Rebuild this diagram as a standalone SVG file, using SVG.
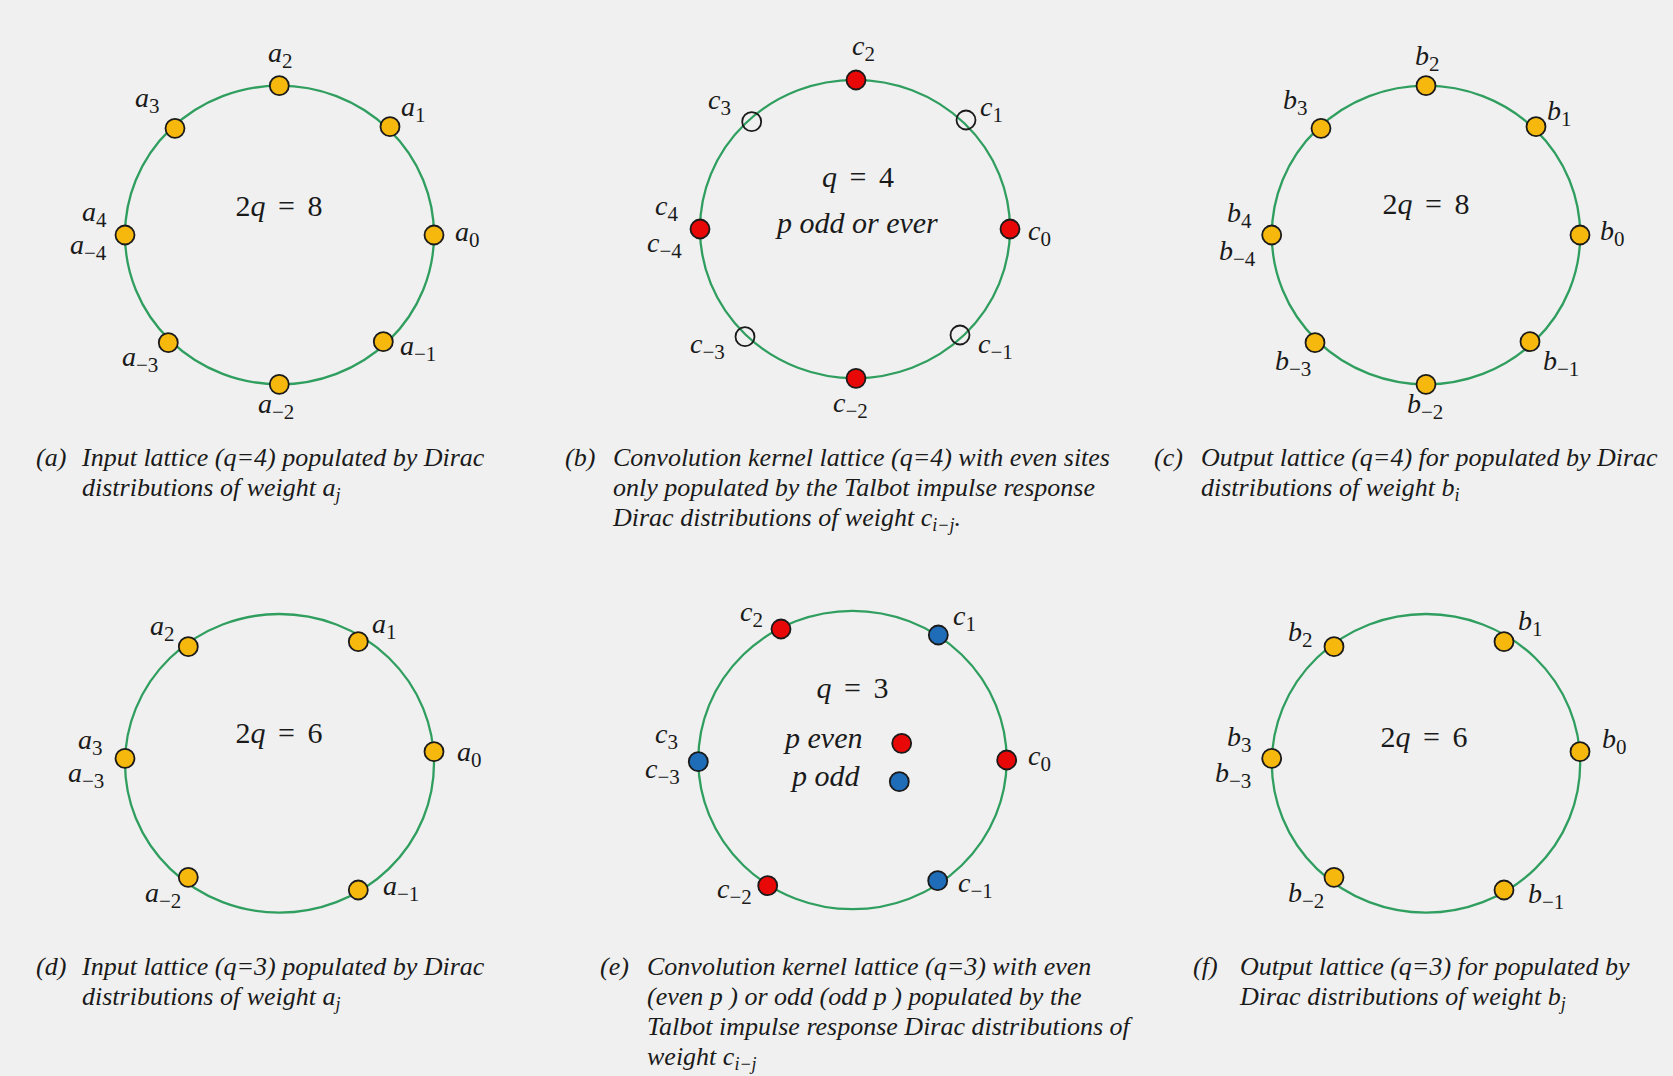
<svg xmlns="http://www.w3.org/2000/svg" width="1673" height="1076" viewBox="0 0 1673 1076">
<style>
.ring{fill:none;stroke:#2f9e5f;stroke-width:2.3}
.y{fill:#f6b80c;stroke:#1a1a1a;stroke-width:1.8}
.r{fill:#e80808;stroke:#1a1a1a;stroke-width:1.8}
.b{fill:#1f6cb8;stroke:#1a1a1a;stroke-width:1.8}
.o{fill:none;stroke:#1a1a1a;stroke-width:1.8}
.m{font-family:"Liberation Serif",serif;font-style:italic;font-size:28px;fill:#1a1a1a}
.ctr{font-family:"Liberation Serif",serif;font-style:italic;font-size:30px;fill:#1a1a1a;word-spacing:5px}
.pl{font-family:"Liberation Serif",serif;font-style:italic;font-size:30px;fill:#1a1a1a}
.n{font-style:normal}
.s{font-size:21px;font-style:normal}
.cap{font-family:"Liberation Serif",serif;font-style:italic;font-size:26px;fill:#1a1a1a}
.cs{font-size:18px}
</style>
<rect x="0" y="0" width="1673" height="1076" fill="#f0f0f0"/>

<g id="connectors">
<ellipse class="ring" cx="279.5" cy="235" rx="154.5" ry="149.3"/>
<ellipse class="ring" cx="855" cy="229" rx="155" ry="149.2"/>
<ellipse class="ring" cx="1426" cy="235" rx="154.2" ry="149.3"/>
<ellipse class="ring" cx="279.5" cy="763.3" rx="154.5" ry="149.3"/>
<ellipse class="ring" cx="852.5" cy="760" rx="154.2" ry="149.2"/>
<ellipse class="ring" cx="1426" cy="763.3" rx="154.2" ry="149.3"/>
</g>

<!-- Panel (a) -->
<g id="panel-a">
<g id="a-a2"><circle class="y" cx="279.3" cy="85.7" r="9.5"/><text class="m" x="268" y="62">a<tspan class="s" dy="6">2</tspan></text></g>
<g id="a-a1"><circle class="y" cx="390" cy="126.7" r="9.5"/><text class="m" x="401" y="116">a<tspan class="s" dy="6">1</tspan></text></g>
<g id="a-a0"><circle class="y" cx="434" cy="235" r="9.5"/><text class="m" x="455" y="241">a<tspan class="s" dy="6">0</tspan></text></g>
<g id="a-am1"><circle class="y" cx="383.3" cy="341.7" r="9.5"/><text class="m" x="400" y="355">a<tspan class="s" dy="6">−1</tspan></text></g>
<g id="a-am2"><circle class="y" cx="279.3" cy="384.3" r="9.5"/><text class="m" x="258" y="413">a<tspan class="s" dy="6">−2</tspan></text></g>
<g id="a-am3"><circle class="y" cx="168.3" cy="342.7" r="9.5"/><text class="m" x="122" y="366">a<tspan class="s" dy="6">−3</tspan></text></g>
<g id="a-a4"><circle class="y" cx="125" cy="235" r="9.5"/><text class="m" x="82" y="221">a<tspan class="s" dy="6">4</tspan></text><text class="m" x="70" y="254">a<tspan class="s" dy="6">−4</tspan></text></g>
<g id="a-a3"><circle class="y" cx="175" cy="128.3" r="9.5"/><text class="m" x="135" y="107">a<tspan class="s" dy="6">3</tspan></text></g>
<text class="ctr" x="279" y="216" text-anchor="middle"><tspan class="n">2</tspan>q <tspan class="n">= 8</tspan></text>
<text class="cap" x="36" y="466">(a)</text>
<text class="cap" x="82" y="466">Input lattice (q=4) populated by Dirac</text>
<text class="cap" x="82" y="496">distributions of weight a<tspan class="cs" dy="5">j</tspan></text>
</g>

<!-- Panel (b) -->
<g id="panel-b">
<g id="b-c2"><circle class="r" cx="856" cy="80" r="9.5"/><text class="m" x="852" y="55">c<tspan class="s" dy="6">2</tspan></text></g>
<g id="b-c1"><circle class="o" cx="966" cy="120" r="9.5"/><text class="m" x="980" y="116">c<tspan class="s" dy="6">1</tspan></text></g>
<g id="b-c0"><circle class="r" cx="1010" cy="229" r="9.5"/><text class="m" x="1028" y="240">c<tspan class="s" dy="6">0</tspan></text></g>
<g id="b-cm1"><circle class="o" cx="960" cy="335" r="9.5"/><text class="m" x="978" y="353">c<tspan class="s" dy="6">−1</tspan></text></g>
<g id="b-cm2"><circle class="r" cx="856" cy="378.3" r="9.5"/><text class="m" x="833" y="412">c<tspan class="s" dy="6">−2</tspan></text></g>
<g id="b-cm3"><circle class="o" cx="745" cy="336.7" r="9.5"/><text class="m" x="690" y="353">c<tspan class="s" dy="6">−3</tspan></text></g>
<g id="b-c4"><circle class="r" cx="700" cy="229" r="9.5"/><text class="m" x="655" y="215">c<tspan class="s" dy="6">4</tspan></text><text class="m" x="647" y="252">c<tspan class="s" dy="6">−4</tspan></text></g>
<g id="b-c3"><circle class="o" cx="751.7" cy="121.7" r="9.5"/><text class="m" x="708" y="109">c<tspan class="s" dy="6">3</tspan></text></g>
<text class="ctr" x="858" y="187" text-anchor="middle">q <tspan class="n">= 4</tspan></text>
<text class="pl" x="777" y="233">p odd or ever</text>
<text class="cap" x="565" y="466">(b)</text>
<text class="cap" x="613" y="466">Convolution kernel lattice (q=4) with even sites</text>
<text class="cap" x="613" y="496">only populated by the Talbot impulse response</text>
<text class="cap" x="613" y="526">Dirac distributions of weight c<tspan class="cs" dy="5">i−j</tspan><tspan dy="-5">.</tspan></text>
</g>

<!-- Panel (c) -->
<g id="panel-c">
<g id="c-b2"><circle class="y" cx="1426" cy="85.7" r="9.5"/><text class="m" x="1415" y="65">b<tspan class="s" dy="6">2</tspan></text></g>
<g id="c-b1"><circle class="y" cx="1536" cy="126.7" r="9.5"/><text class="m" x="1547" y="120">b<tspan class="s" dy="6">1</tspan></text></g>
<g id="c-b0"><circle class="y" cx="1580" cy="235" r="9.5"/><text class="m" x="1600" y="240">b<tspan class="s" dy="6">0</tspan></text></g>
<g id="c-bm1"><circle class="y" cx="1530" cy="341.7" r="9.5"/><text class="m" x="1543" y="370">b<tspan class="s" dy="6">−1</tspan></text></g>
<g id="c-bm2"><circle class="y" cx="1426" cy="384.3" r="9.5"/><text class="m" x="1407" y="413">b<tspan class="s" dy="6">−2</tspan></text></g>
<g id="c-bm3"><circle class="y" cx="1315" cy="342.7" r="9.5"/><text class="m" x="1275" y="370">b<tspan class="s" dy="6">−3</tspan></text></g>
<g id="c-b4"><circle class="y" cx="1271.7" cy="235" r="9.5"/><text class="m" x="1227" y="222">b<tspan class="s" dy="6">4</tspan></text><text class="m" x="1219" y="260">b<tspan class="s" dy="6">−4</tspan></text></g>
<g id="c-b3"><circle class="y" cx="1321" cy="128.3" r="9.5"/><text class="m" x="1283" y="109">b<tspan class="s" dy="6">3</tspan></text></g>
<text class="ctr" x="1426" y="214" text-anchor="middle"><tspan class="n">2</tspan>q <tspan class="n">= 8</tspan></text>
<text class="cap" x="1154" y="466">(c)</text>
<text class="cap" x="1201" y="466">Output lattice (q=4) for populated by Dirac</text>
<text class="cap" x="1201" y="496">distributions of weight b<tspan class="cs" dy="5">i</tspan></text>
</g>

<!-- Panel (d) -->
<g id="panel-d">
<g id="d-a2"><circle class="y" cx="188.3" cy="646.7" r="9.5"/><text class="m" x="150" y="635">a<tspan class="s" dy="6">2</tspan></text></g>
<g id="d-a1"><circle class="y" cx="358.3" cy="641.7" r="9.5"/><text class="m" x="372" y="633">a<tspan class="s" dy="6">1</tspan></text></g>
<g id="d-a0"><circle class="y" cx="434" cy="751.7" r="9.5"/><text class="m" x="457" y="761">a<tspan class="s" dy="6">0</tspan></text></g>
<g id="d-am1"><circle class="y" cx="358.3" cy="890" r="9.5"/><text class="m" x="383" y="895">a<tspan class="s" dy="6">−1</tspan></text></g>
<g id="d-am2"><circle class="y" cx="188.3" cy="877.3" r="9.5"/><text class="m" x="145" y="902">a<tspan class="s" dy="6">−2</tspan></text></g>
<g id="d-a3"><circle class="y" cx="125" cy="758.3" r="9.5"/><text class="m" x="78" y="749">a<tspan class="s" dy="6">3</tspan></text><text class="m" x="68" y="782">a<tspan class="s" dy="6">−3</tspan></text></g>
<text class="ctr" x="279" y="743" text-anchor="middle"><tspan class="n">2</tspan>q <tspan class="n">= 6</tspan></text>
<text class="cap" x="36" y="975">(d)</text>
<text class="cap" x="82" y="975">Input lattice (q=3) populated by Dirac</text>
<text class="cap" x="82" y="1005">distributions of weight a<tspan class="cs" dy="5">j</tspan></text>
</g>

<!-- Panel (e) -->
<g id="panel-e">
<g id="e-c2"><circle class="r" cx="781" cy="629" r="9.5"/><text class="m" x="740" y="621">c<tspan class="s" dy="6">2</tspan></text></g>
<g id="e-c1"><circle class="b" cx="938.3" cy="635" r="9.5"/><text class="m" x="953" y="625">c<tspan class="s" dy="6">1</tspan></text></g>
<g id="e-c0"><circle class="r" cx="1006.7" cy="760" r="9.5"/><text class="m" x="1028" y="765">c<tspan class="s" dy="6">0</tspan></text></g>
<g id="e-cm1"><circle class="b" cx="937.7" cy="880.7" r="9.5"/><text class="m" x="958" y="892">c<tspan class="s" dy="6">−1</tspan></text></g>
<g id="e-cm2"><circle class="r" cx="767.7" cy="885.7" r="9.5"/><text class="m" x="717" y="898">c<tspan class="s" dy="6">−2</tspan></text></g>
<g id="e-c3"><circle class="b" cx="698.3" cy="761.7" r="9.5"/><text class="m" x="655" y="743">c<tspan class="s" dy="6">3</tspan></text><text class="m" x="645" y="778">c<tspan class="s" dy="6">−3</tspan></text></g>
<text class="ctr" x="852.5" y="698" text-anchor="middle">q <tspan class="n">= 3</tspan></text>
<g id="e-leg-even"><text class="pl" x="785" y="748">p even</text><circle class="r" cx="901.7" cy="743.3" r="9.5"/></g>
<g id="e-leg-odd"><text class="pl" x="792" y="786">p odd</text><circle class="b" cx="899.3" cy="781.7" r="9.5"/></g>
<text class="cap" x="600" y="975">(e)</text>
<text class="cap" x="647" y="975">Convolution kernel lattice (q=3) with even</text>
<text class="cap" x="647" y="1005">(even p ) or odd (odd p ) populated by the</text>
<text class="cap" x="647" y="1035">Talbot impulse response Dirac distributions of</text>
<text class="cap" x="647" y="1065">weight c<tspan class="cs" dy="5">i−j</tspan></text>
</g>

<!-- Panel (f) -->
<g id="panel-f">
<g id="f-b2"><circle class="y" cx="1334" cy="646.7" r="9.5"/><text class="m" x="1288" y="641">b<tspan class="s" dy="6">2</tspan></text></g>
<g id="f-b1"><circle class="y" cx="1504" cy="641.7" r="9.5"/><text class="m" x="1518" y="630">b<tspan class="s" dy="6">1</tspan></text></g>
<g id="f-b0"><circle class="y" cx="1580" cy="751.7" r="9.5"/><text class="m" x="1602" y="748">b<tspan class="s" dy="6">0</tspan></text></g>
<g id="f-bm1"><circle class="y" cx="1504" cy="890" r="9.5"/><text class="m" x="1528" y="903">b<tspan class="s" dy="6">−1</tspan></text></g>
<g id="f-bm2"><circle class="y" cx="1334" cy="877.3" r="9.5"/><text class="m" x="1288" y="902">b<tspan class="s" dy="6">−2</tspan></text></g>
<g id="f-b3"><circle class="y" cx="1271.7" cy="758.3" r="9.5"/><text class="m" x="1227" y="746">b<tspan class="s" dy="6">3</tspan></text><text class="m" x="1215" y="782">b<tspan class="s" dy="6">−3</tspan></text></g>
<text class="ctr" x="1424" y="747" text-anchor="middle"><tspan class="n">2</tspan>q <tspan class="n">= 6</tspan></text>
<text class="cap" x="1193" y="975">(f)</text>
<text class="cap" x="1240" y="975">Output lattice (q=3) for populated by</text>
<text class="cap" x="1240" y="1005">Dirac distributions of weight b<tspan class="cs" dy="5">j</tspan></text>
</g>
</svg>
